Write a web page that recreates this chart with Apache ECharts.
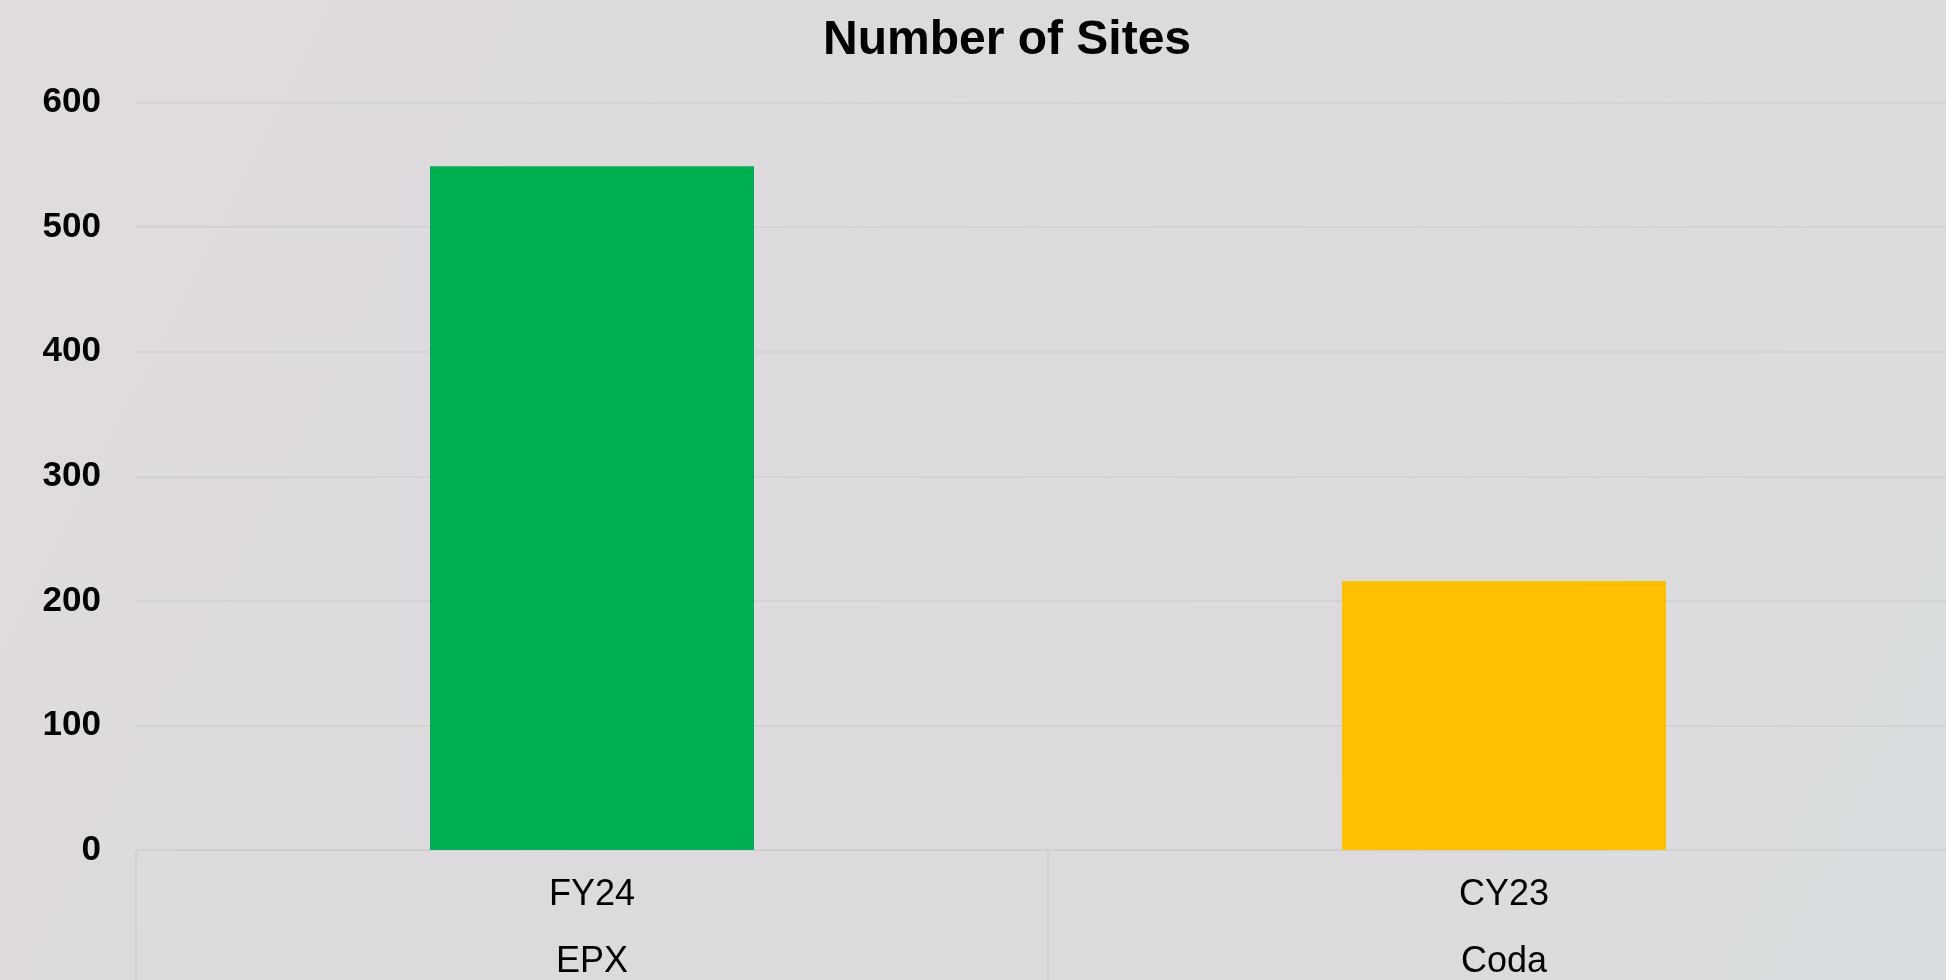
<!DOCTYPE html>
<html>
<head>
<meta charset="utf-8">
<script src="https://cdn.jsdelivr.net/npm/echarts@6/dist/echarts.min.js"></script>
<style>
html,body{margin:0;padding:0;}
#chart{width:1946px;height:980px;}
</style>
</head>
<body>
<div id="chart"></div>
<script>
const titleText = 'Number of Sites';
const periods = ['FY24', 'CY23'];
const programs = ['EPX', 'Coda'];
const sites = [549, 216];
const barColors = ['#00B050', '#FFC000'];
const yTicks = [0, 100, 200, 300, 400, 500, 600];

const categories = periods.map((p, i) => p + '\n' + programs[i]);

const chart = echarts.init(document.getElementById('chart'));
chart.setOption({
  backgroundColor: {
    type: 'linear', x: 0, y: 0, x2: 1, y2: 1,
    colorStops: [
      { offset: 0, color: '#dfdbdf' },
      { offset: 0.4, color: '#dddadd' },
      { offset: 0.7, color: '#dcdbdc' },
      { offset: 1, color: '#d9dddf' }
    ]
  },
  title: {
    text: titleText,
    left: 1002,
    textAlign: 'center',
    top: 12,
    textStyle: { fontFamily: 'Liberation Sans', fontSize: 48, fontWeight: 'bold', color: '#000' }
  },
  grid: { left: 136, top: 102.7, width: 1824, height: 747.3, containLabel: false, outerBoundsMode: 'none' },
  xAxis: {
    type: 'category',
    data: categories,
    axisLine: { show: true, lineStyle: { color: '#d0d0d0', width: 1.5 } },
    axisTick: { show: true, alignWithLabel: false, length: 140, lineStyle: { color: '#cfcfcf', width: 1.5 } },
    axisLabel: {
      color: '#000',
      fontFamily: 'Liberation Sans',
      fontSize: 36,
      lineHeight: 67,
      margin: 12
    }
  },
  yAxis: {
    type: 'value',
    min: yTicks[0],
    max: yTicks[yTicks.length - 1],
    interval: yTicks[1] - yTicks[0],
    axisLine: { show: false },
    axisTick: { show: false },
    splitLine: { show: true, lineStyle: { color: '#d0d0d0', width: 1.5 } },
    axisLabel: {
      color: '#000',
      fontFamily: 'Liberation Sans',
      fontSize: 35,
      fontWeight: 'bold',
      margin: 35
    }
  },
  series: [{
    type: 'bar',
    data: sites.map((v, i) => ({ value: v, itemStyle: { color: barColors[i] } })),
    barWidth: 324,
    animation: false
  }],
  animation: false
});
</script>
</body>
</html>
